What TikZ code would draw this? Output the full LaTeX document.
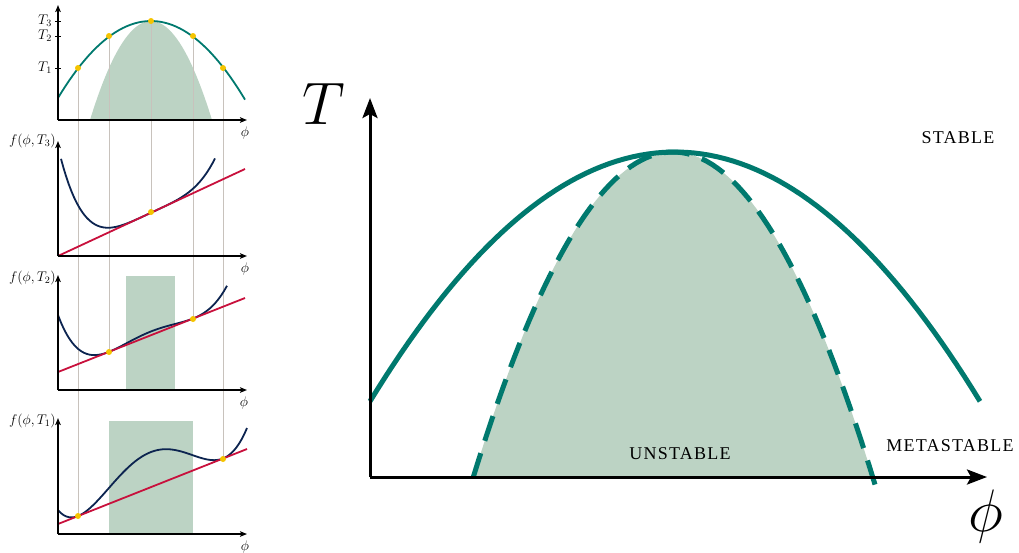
\documentclass[tikz,border=0pt]{standalone}
\usepackage{fix-cm}
\usepackage{fontspec}
\newfontfamily\capsfont[LetterSpace=7]{Liberation Serif}
\usetikzlibrary{arrows.meta,calc}

\definecolor{tealc}{RGB}{0,121,110}
\definecolor{spinc}{RGB}{188,211,196}
\definecolor{navyc}{RGB}{12,36,80}
\definecolor{redc}{RGB}{200,16,60}
\definecolor{dotc}{RGB}{245,196,0}
\definecolor{guidec}{RGB}{200,194,188}

\tikzstyle{bigaxis} = [line width=3pt,-{Stealth[length=20pt,width=15pt,inset=4pt]}]
\tikzstyle{axis} = [line width=1.3pt,-{Stealth[length=7pt,width=5.5pt,inset=1.5pt]}]

\begin{document}
\begin{tikzpicture}[
        x=1pt, y=-1pt,
        line cap=butt,
        line join=round,
        every node/.style={font=\fontsize{14}{14}\selectfont, inner sep=0pt},
        free/.style={navyc, line width=1.8pt},
        tangent/.style={redc, line width=1.8pt},
        guide/.style={guidec, line width=1pt},
        phase/.style={tealc, line width=5pt},
        region/.style={font=\capsfont\fontsize{18}{18}\selectfont}
    ]

        \useasboundingbox (0,0) rectangle (1019,552);

        % main diagram: axes
        \coordinate (O) at (370,477);
        \coordinate (Tend) at (370,98);
        \coordinate (Pend) at (987,477);

        % spinodal region
        \fill[spinc]
            plot[domain=473:873,samples=80] (\x,{152+81.5*((\x-673)/100)*((\x-673)/100)}) -- cycle;
        \draw[phase, dash pattern=on 26pt off 13pt]
            plot[domain=473:875,samples=80] (\x,{152+81.5*((\x-673)/100)*((\x-673)/100)});

        % binodal
        \draw[phase]
            plot[domain=370:980,samples=80] (\x,{152+26.8*((\x-675)/100)*((\x-675)/100)});

        \draw[bigaxis] (O) -- (Tend);
        \draw[bigaxis] (O) -- (Pend);

        \node (Tlab) at (324,104) {\fontsize{60}{60}\selectfont$T$};
        \node (Plab) at (986,516) {\fontsize{60}{60}\selectfont$\phi$};

        \node[region] (stable) at (958,138) {STABLE};
        \node[region] (unstable) at (680,454) {UNSTABLE};
        \node[region] (meta) at (950,446) {METASTABLE};

        % small phase diagram
        \coordinate (a0) at (58,120);
        \coordinate (a1) at (58,5);
        \coordinate (a2) at (247,120);

        \fill[spinc]
            plot[domain=90:212,samples=50] (\x,{21+0.0266*(\x-151)*(\x-151)}) -- cycle;

        % points on the binodal and their tangent points below
        \coordinate (p1) at (78,68);
        \coordinate (p2) at (109,36);
        \coordinate (p3) at (151,21);
        \coordinate (p4) at (193,36);
        \coordinate (p5) at (223,68);

        \coordinate (q3) at (151,212);
        \coordinate (q2a) at (109,352);
        \coordinate (q2b) at (193,319);
        \coordinate (q1a) at (78,516);
        \coordinate (q1b) at (223,459);

        \draw[guide] (p1) -- (q1a);
        \draw[guide] (p2) -- (q2a);
        \draw[guide] (p3) -- (q3);
        \draw[guide] (p4) -- (q2b);
        \draw[guide] (p5) -- (q1b);

        \draw[tealc, line width=1.8pt]
            plot[domain=58:245,samples=50] (\x,{21+0.0089*(\x-151)*(\x-151)});

        \draw[axis] (a0) -- (a1);
        \draw[axis] (a0) -- (a2);

        % ticks
        \foreach \y/\t in {21/3, 36/2, 68/1} {
            \draw[line width=1pt] (55,\y) -- (61,\y);
            \node[anchor=east] (tick\t) at (52,\y) {$T_{\t}$};
        }
        \node (phi0) at (245,133) {$\phi$};

        % free energy at T3
        \coordinate (b0) at (58,256);
        \coordinate (b1) at (58,141);
        \coordinate (b2) at (247,256);
        \coordinate (r3a) at (58,256);
        \coordinate (r3b) at (245,169);

        \draw[free]
            plot[domain=61:215,samples=60]
            (\x,{256-0.4652*(\x-58)-146*((\x-151)/100)*((\x-151)/100)*((\x-151)/100)*((\x-151)/100)});
        \draw[tangent] (r3a) -- (r3b);
        \draw[axis] (b0) -- (b1);
        \draw[axis] (b0) -- (b2);
        \node[anchor=east] (f3) at (56,141) {$f(\phi,T_3)$};
        \node (phi3) at (245,269) {$\phi$};

        % free energy at T2
        \coordinate (c0) at (58,390);
        \coordinate (c1) at (58,275);
        \coordinate (c2) at (247,390);
        \coordinate (r2a) at (58,372);
        \coordinate (r2b) at (245,298);

        \fill[spinc] (126,276) rectangle (175,390);
        \draw[free]
            plot[domain=58:227,samples=60]
            (\x,{372-0.396*(\x-58)-120*((\x-109)/100)*((\x-109)/100)*((\x-193)/100)*((\x-193)/100)});
        \draw[tangent] (r2a) -- (r2b);
        \draw[axis] (c0) -- (c1);
        \draw[axis] (c0) -- (c2);
        \node[anchor=east] (f2) at (56,278) {$f(\phi,T_2)$};
        \node (phi2) at (244,403) {$\phi$};

        % free energy at T1
        \coordinate (d0) at (58,534);
        \coordinate (d1) at (58,418);
        \coordinate (d2) at (247,534);
        \coordinate (r1a) at (58,524);
        \coordinate (r1b) at (247,449);

        \fill[spinc] (109,421) rectangle (193,534);
        \draw[free]
            plot[domain=58:247,samples=70]
            (\x,{524-0.397*(\x-58)-127*((\x-78)/100)*((\x-78)/100)*((\x-223)/100)*((\x-223)/100)});
        \draw[tangent] (r1a) -- (r1b);
        \draw[axis] (d0) -- (d1);
        \draw[axis] (d0) -- (d2);
        \node[anchor=east] (f1) at (56,421) {$f(\phi,T_1)$};
        \node (phi1) at (245,547) {$\phi$};

        % points
        \foreach \p in {p1,p2,p3,p4,p5,q3,q2a,q2b,q1a,q1b}
            \fill[dotc] (\p) circle (3);

    \end{tikzpicture}
\end{document}
